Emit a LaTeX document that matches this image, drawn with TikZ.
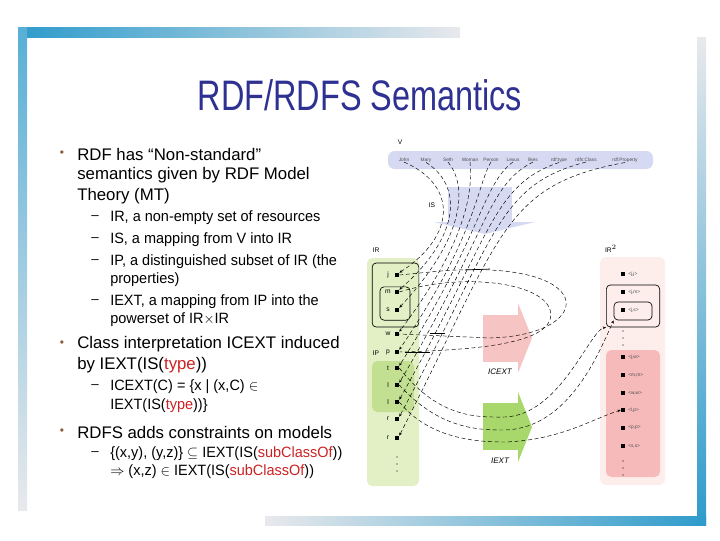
\documentclass[tikz,border=0pt]{standalone}
\usepackage{fontspec}
\setmainfont{Liberation Sans}
\usetikzlibrary{arrows.meta,calc}
\definecolor{ttl}{HTML}{2E3192}
\definecolor{lav}{HTML}{D6D9F2}
\definecolor{gl}{HTML}{E3F0C6}
\definecolor{gd}{HTML}{C3E092}
\definecolor{pl}{HTML}{FDEEEC}
\definecolor{pd}{HTML}{F6BABA}
\definecolor{parr}{HTML}{F7C4C4}
\definecolor{garr}{HTML}{A8D86C}
\definecolor{fb}{HTML}{2E9BCB}
\definecolor{fg}{HTML}{E8E9EC}
\definecolor{rd}{HTML}{CC2222}
\definecolor{bul}{HTML}{8A5A3A}
\begin{document}
\begin{tikzpicture}[x=0.75pt,y=-0.75pt,
  main/.style={anchor=west,inner sep=0pt,font=\fontsize{12.6}{13}\selectfont,xscale=1.0},
  sub/.style={anchor=west,inner sep=0pt,font=\fontsize{11.2}{12}\selectfont,xscale=0.97},
  tiny/.style={inner sep=0pt,font=\fontsize{3.6}{4}\selectfont,text=black!70},
  lbl/.style={inner sep=0pt,font=\fontsize{5}{5}\selectfont},
  dot/.style={fill=black,minimum size=3pt,inner sep=0pt},
  dl/.style={densely dashed,line width=0.35pt},
  tip/.style={-{Stealth[length=2.5pt,width=2pt]}},
  brk/.style={draw,line width=0.5pt,rounded corners=3pt}]
\useasboundingbox (0,0) rectangle (720,540);
% frame
\shade[left color=fb,right color=fg] (18,27) rectangle (460,37);
\shade[top color=fb!80,bottom color=fg] (18,27) rectangle (27,510);
\shade[top color=fg,bottom color=fb] (697,37) rectangle (706,525);
\shade[left color=fg,right color=fb] (265,516) rectangle (706,525);
% title
\node[text=ttl,font=\fontsize{32}{34}\selectfont,xscale=0.76] (title) at (360,95) {RDF/RDFS Semantics};
% left text
\foreach \y in {154,344,432} \node[text=bul,font=\fontsize{9}{9}\selectfont] at (62,\y) {•};
\foreach \y in {218,240,262,302,387,454} \node[font=\fontsize{10}{10}\selectfont] at (95,\y) {–};
\node[main] (t1) at (77,154) {RDF has “Non-standard”};
\node[main] (t2) at (77,175) {semantics given by RDF Model};
\node[main] (t3) at (77,196) {Theory (MT)};
\node[sub] (s1) at (110,218) {IR, a non-empty set of resources};
\node[sub] (s2) at (110,240) {IS, a mapping from V into IR};
\node[sub] (s3) at (110,262) {IP, a distinguished subset of IR (the};
\node[sub] (s3b) at (110,280) {properties)};
\node[sub] (s4) at (110,302) {IEXT, a mapping from IP into the};
\node[sub] (s4b) at (110,320) {powerset of IR$\times$IR};
\node[main] (t4) at (77,344) {Class interpretation ICEXT induced};
\node[main] (t5) at (77,365) {by IEXT(IS(\textcolor{rd}{type}))};
\node[sub] (s5) at (110,387) {ICEXT(C) = \{x | (x,C) $\in$};
\node[sub] (s5b) at (110,406) {IEXT(IS(\textcolor{rd}{type}))\}};
\node[main] (t6) at (77,432) {RDFS adds constraints on models};
\node[sub] (s6) at (110,454) {\{(x,y), (y,z)\} $\subseteq$ IEXT(IS(\textcolor{rd}{subClassOf}))};
\node[sub] (s6b) at (110,472) {$\Rightarrow$ (x,z) $\in$ IEXT(IS(\textcolor{rd}{subClassOf}))};
% diagram backgrounds
\fill[gl,rounded corners=4pt] (367,258) rectangle (419,486);
\fill[gd,rounded corners=4pt] (372,361) rectangle (414,412);
\fill[pl,rounded corners=4pt] (600,257) rectangle (665,485);
\fill[pd,rounded corners=4pt] (606,350) rectangle (660,477);
\fill[lav,rounded corners=5pt] (388,151) rectangle (653,169);
\fill[lav] (448,187) rectangle (512,222);
\fill[lav] (434,222) -- (535,222) -- (485,234) -- cycle;
\fill[parr] (483,315) rectangle (518,362);
\fill[parr] (518,303) -- (532,338) -- (518,373) -- cycle;
\fill[garr] (483,403) rectangle (518,450);
\fill[garr] (518,392) -- (532,427) -- (518,462) -- cycle;
% labels
\node[lbl] (lv) at (400,142) {V};
\node[lbl] (lis) at (432,205) {IS};
\node[lbl] (lir) at (376,250) {IR};
\node[lbl] (lir2) at (611,249) {IR$^{2}$};
\node[lbl] (lip) at (376,353) {IP};
\node[lbl,font=\fontsize{6}{6}\selectfont\itshape] (lic) at (500,372) {ICEXT};
\node[lbl,font=\fontsize{6}{6}\selectfont\itshape] (lie) at (500,461) {IEXT};
% V words
\foreach \w/\x [count=\i] in {John/404,Mary/426,Seth/448,Woman/470,Person/491,Lexus/513,likes/533,rdf:type/559,rdfs:Class/586,rdf:Property/625}
  \node[tiny] (v\i) at (\x,160) {\w};
% IR elements
\foreach \l/\y [count=\i] in {j/275,m/292,s/310,w/334,p/352,t/368,l/385,l/402,r/419,r/438}{
  \node[dot] (d\i) at (397,\y) {};
  \node[lbl] (n\i) at (388,\y) {\l};
}
\foreach \y in {457,464,471} \fill (397,\y) circle (0.7);
\node[brk,minimum width=35pt,minimum height=48pt] (ob) at (395.5,295) {};
\node[brk,minimum width=22.5pt,minimum height=25pt] (ib) at (395,303.5) {};
% IR2 elements
\foreach \l/\y [count=\i] in {{<j,j>}/274,{<j,m>}/292,{<j,s>}/310,{<j,w>}/357,{<m,m>}/375,{<w,w>}/393,{<l,p>}/410,{<p,p>}/428,{<s,s>}/446}{
  \node[dot] (e\i) at (623,\y) {};
  \node[tiny,anchor=west] (f\i) at (628,\y) {\l};
}
\foreach \y in {331,338,345,461,468,475} \fill (623,\y) circle (0.7);
\node[brk,minimum width=40pt,minimum height=31.5pt] (ob2) at (633,306) {};
\node[brk,minimum width=28.5pt,minimum height=13.5pt] (ib2) at (633,311) {};
% IS mappings
\foreach \i in {1,...,10}{
  \pgfmathsetmacro{\cx}{452+5*\i}
  \draw[dl,tip] (v\i.south) .. controls (\cx,185) and (\cx,235) .. (d\i.north east);
}
% ICEXT loops
\draw[dl] (d1.east) -- (430,272) .. controls (600,255) and (600,335) .. (490,338) -- (d4.east);
\draw[dl] (d2.east) .. controls (470,270) and (560,285) .. (550,320) .. controls (540,345) and (470,350) .. (d5.east);
\draw[line width=0.5pt] (465,270) -- (490,269);
\draw[line width=0.5pt] (430,333) -- (445,333);
\draw[line width=0.5pt] (405,352) -- (430,352);
% IEXT curves
\draw[dl,tip] (d6.east) .. controls (440,420) and (480,417) .. (505,417) .. controls (560,415) and (590,330) .. (ob2.south west);
\draw[dl,tip] (d7.east) .. controls (440,430) and (480,430) .. (505,430) .. controls (570,428) and (600,350) .. (ib2.south west);
\draw[dl,tip] (d8.east) .. controls (430,440) and (480,442) .. (505,442) .. controls (560,440) and (590,420) .. (e7.west);
\end{tikzpicture}
\end{document}
